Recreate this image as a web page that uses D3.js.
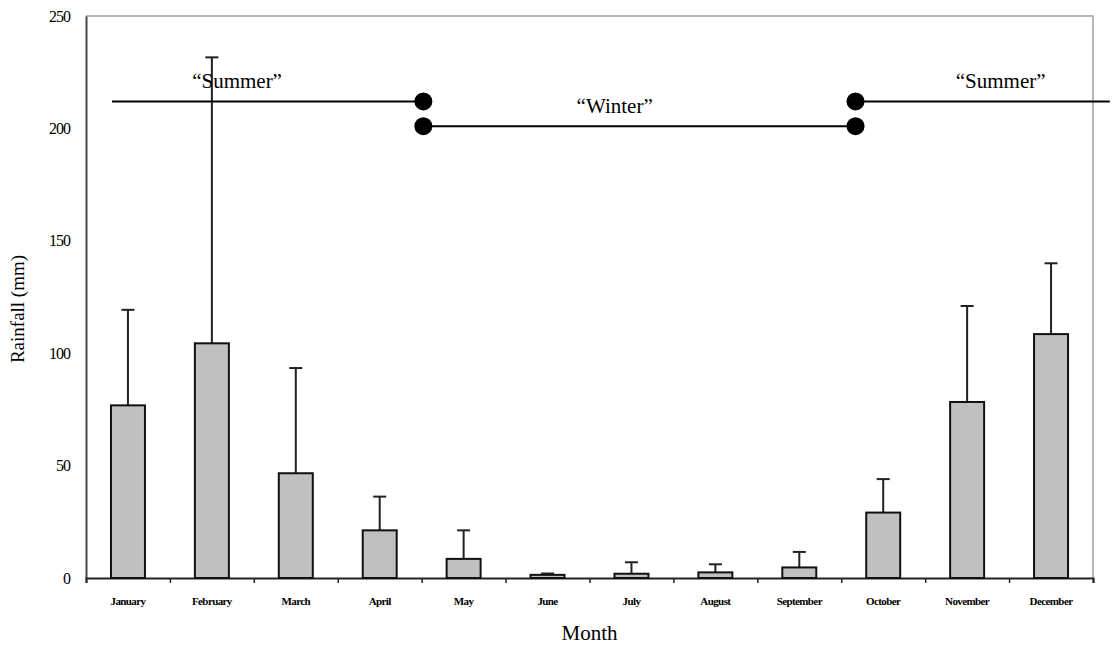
<!DOCTYPE html>
<html>
<head>
<meta charset="utf-8">
<script src="https://cdn.jsdelivr.net/npm/d3@7"></script>
<style>
  body { margin: 0; background: #fff; }
  svg text { font-family: "Liberation Serif", "Times New Roman", serif; fill: #000; }
</style>
</head>
<body>
<script>
var months = ["January","February","March","April","May","June","July","August","September","October","November","December"];
var rainfall = [76.8, 104.4, 46.6, 21.2, 8.5, 1.4, 1.9, 2.5, 4.7, 29.1, 78.3, 108.5];
var errorTop = [119.3, 231.6, 93.4, 36.2, 21.2, 2.0, 7.0, 6.1, 11.6, 44.0, 121.0, 140.0];
var yTicks = [0, 50, 100, 150, 200, 250];

// season markers: start/end as month positions (0 = left edge of January), level in mm
var seasonNames = ["\u201cSummer\u201d", "\u201cWinter\u201d", "\u201cSummer\u201d"];
var seasonStart = [0.31, 4.02, 9.17];
var seasonEnd = [4.02, 9.17, 12.2];
var seasonLevel = [212, 201, 212];
var seasonLabelPos = [1.8, 6.3, 10.9];
var seasonLabelLevel = [218, 207, 218];

var margin = {top: 16, right: 25, bottom: 74, left: 86},
    width = 1118 - margin.left - margin.right,
    height = 652 - margin.top - margin.bottom;

var svg = d3.select("body").append("svg")
    .attr("width", 1118)
    .attr("height", 652)
  .append("g")
    .attr("transform", `translate(${margin.left},${margin.top})`);

var x = d3.scaleBand()
    .domain(months)
    .range([0, width])
    .paddingInner(0.595)
    .paddingOuter(0.2975);

var xPos = d3.scaleLinear().domain([0, 12]).range([0, width]);

var y = d3.scaleLinear()
    .domain([0, 250])
    .range([height, 0]);

// top and right frame
svg.append("path")
    .attr("d", `M0,0H${width}V${height}`)
    .attr("fill", "none")
    .attr("stroke", "#a0a0a0")
    .attr("stroke-width", 1.5);

// y axis
var yAxis = svg.append("g")
    .call(d3.axisLeft(y).tickValues(yTicks).tickSize(0).tickPadding(16));
yAxis.select(".domain").attr("stroke", "#444").attr("stroke-width", 2);
yAxis.selectAll("text")
    .style("font-size", "16px")
    .attr("letter-spacing", "-1px");

// x axis
var xAxis = svg.append("g")
    .attr("transform", `translate(0,${height})`)
    .call(d3.axisBottom(xPos).tickValues(d3.range(0, 13)).tickSize(5).tickFormat(""));
xAxis.select(".domain").attr("stroke", "#222").attr("stroke-width", 2);
xAxis.selectAll(".tick line").attr("stroke", "#222").attr("stroke-width", 1.5);

svg.append("g").selectAll("text")
    .data(months)
    .enter().append("text")
    .attr("x", d => x(d) + x.bandwidth() / 2)
    .attr("y", height + 27)
    .attr("text-anchor", "middle")
    .attr("font-weight", "bold")
    .attr("letter-spacing", "-0.6px")
    .style("font-size", "11px")
    .text(d => d);

// error bars
var capHalf = 6.5;
var err = svg.append("g").attr("stroke", "#222").attr("stroke-width", 2);
err.selectAll("line.v")
    .data(months)
    .enter().append("line")
    .attr("class", "v")
    .attr("x1", d => x(d) + x.bandwidth() / 2)
    .attr("x2", d => x(d) + x.bandwidth() / 2)
    .attr("y1", (d, i) => y(rainfall[i]))
    .attr("y2", (d, i) => y(errorTop[i]));
err.selectAll("line.c")
    .data(months)
    .enter().append("line")
    .attr("class", "c")
    .attr("x1", d => x(d) + x.bandwidth() / 2 - capHalf)
    .attr("x2", d => x(d) + x.bandwidth() / 2 + capHalf)
    .attr("y1", (d, i) => y(errorTop[i]))
    .attr("y2", (d, i) => y(errorTop[i]));

// bars
svg.append("g").selectAll("rect")
    .data(months)
    .enter().append("rect")
    .attr("x", d => x(d))
    .attr("width", x.bandwidth())
    .attr("y", (d, i) => y(rainfall[i]))
    .attr("height", (d, i) => height - y(rainfall[i]))
    .attr("fill", "#c0c0c0")
    .attr("stroke", "#111")
    .attr("stroke-width", 2);

// season markers
var seasons = svg.append("g");
seasonNames.forEach((name, i) => {
    seasons.append("line")
        .attr("x1", xPos(seasonStart[i]))
        .attr("x2", xPos(seasonEnd[i]))
        .attr("y1", y(seasonLevel[i]))
        .attr("y2", y(seasonLevel[i]))
        .attr("stroke", "#000")
        .attr("stroke-width", 2);
    seasons.append("text")
        .attr("x", xPos(seasonLabelPos[i]))
        .attr("y", y(seasonLabelLevel[i]))
        .attr("text-anchor", "middle")
        .style("font-size", "21px")
        .text(name);
});
// dots at the season boundaries
var dotPos = [seasonEnd[0], seasonStart[1], seasonEnd[1], seasonStart[2]];
var dotLevel = [seasonLevel[0], seasonLevel[1], seasonLevel[1], seasonLevel[2]];
seasons.selectAll("circle")
    .data(dotPos)
    .enter().append("circle")
    .attr("cx", d => xPos(d))
    .attr("cy", (d, i) => y(dotLevel[i]))
    .attr("r", 9)
    .attr("fill", "#000");

// axis titles
svg.append("text")
    .attr("transform", `translate(${-62},${height / 2 + 12}) rotate(-90)`)
    .attr("text-anchor", "middle")
    .style("font-size", "19px")
    .text("Rainfall (mm)");

svg.append("text")
    .attr("x", width / 2)
    .attr("y", height + 62)
    .attr("text-anchor", "middle")
    .style("font-size", "21px")
    .text("Month");
</script>
</body>
</html>
